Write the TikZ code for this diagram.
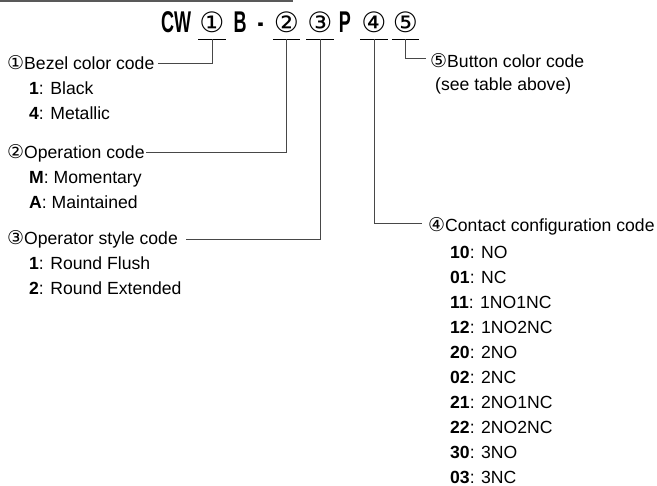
\documentclass[tikz,border=0pt]{standalone}
\usepackage{fontspec}
\setmainfont{Liberation Sans}
\newfontfamily\circfont{DejaVu Sans}
\newcommand\cn[1]{{\circfont\fontsize{19}{25}\selectfont #1}}
\begin{document}
\begin{tikzpicture}[x=1pt,y=-1pt,
  lbl/.style={anchor=base west,inner sep=0pt,font=\fontsize{17.6}{25}\selectfont},
  ttl/.style={anchor=base,inner sep=0pt,xscale=0.6,transform shape,font=\bfseries\fontsize{30}{34}\selectfont},
  tcirc/.style={anchor=base,inner sep=0pt,minimum width=27pt,text depth=6pt,
    font=\circfont\fontsize{28}{34}\selectfont},
  uline/.style={line width=0.9pt,black},
  conn/.style={line width=0.9pt,black!72}]
\useasboundingbox (0,0) rectangle (657,486);
\fill[black!65] (0,0) rectangle (293,2.5);
% title
\node[ttl] (tcw) at (176,33) {CW};
\node[tcirc] (c1) at (212,33) {①};
\node[ttl] (tb) at (240,33) {B};
\node[ttl] (td) at (260.5,33) {-};
\node[tcirc] (c2) at (286.5,33) {②};
\node[tcirc] (c3) at (320,33) {③};
\node[ttl] (tp) at (345,33) {P};
\node[tcirc] (c4) at (374,33) {④};
\node[tcirc] (c5) at (405.5,33) {⑤};
\foreach \c in {c1,c2,c3,c4,c5}{\draw[uline] (\c.south west) -- (\c.south east);}
% left labels
\node[lbl] (l1) at (7,70) {\cn{①}Bezel color code};
\node[lbl] (l1a) at (29,95) {\textbf{1}: Black};
\node[lbl] (l1b) at (29,120) {\textbf{4}: Metallic};
\node[lbl] (l2) at (7,159) {\cn{②}Operation code};
\node[lbl] (l2a) at (29,184) {\textbf{M}: Momentary};
\node[lbl] (l2b) at (29,209) {\textbf{A}: Maintained};
\node[lbl] (l3) at (7,245) {\cn{③}Operator style code};
\node[lbl] (l3a) at (29,270) {\textbf{1}: Round Flush};
\node[lbl] (l3b) at (29,295) {\textbf{2}: Round Extended};
% right labels
\node[lbl] (l5) at (430,68) {\cn{⑤}Button color code};
\node[lbl] (l5a) at (435,91) {(see table above)};
\node[lbl] (l4) at (428,232) {\cn{④}Contact configuration code};
\foreach \k/\code/\txt in {0/10/NO,1/01/NC,2/11/1NO1NC,3/12/1NO2NC,4/20/2NO,5/02/2NC,6/21/2NO1NC,7/22/2NO2NC,8/30/3NO,9/03/3NC}{
  \node[lbl] (l4\k) at (450,258.5+25*\k) {\textbf{\code}: \txt};
}
% connectors
\draw[conn] (c1.south) |- ([xshift=3pt,yshift=7pt]l1.base east);
\draw[conn] (c2.south) |- ([xshift=1pt,yshift=6.5pt]l2.base east);
\draw[conn] (c3.south) |- ([xshift=8pt,yshift=6pt]l3.base east);
\draw[conn] (c4.south) |- ([xshift=-6pt,yshift=9pt]l4.base west);
\draw[conn] (c5.south) |- ([xshift=-4pt,yshift=10pt]l5.base west);
\end{tikzpicture}
\end{document}
